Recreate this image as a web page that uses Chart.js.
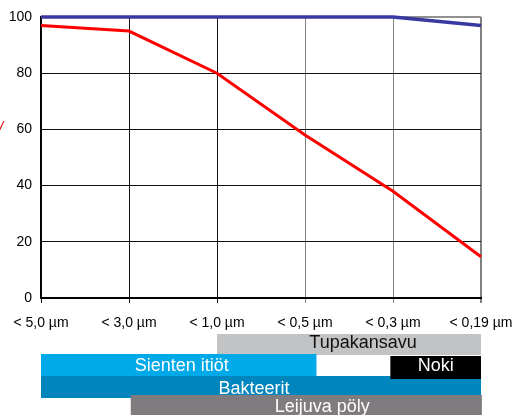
<!DOCTYPE html>
<html>
<head>
<meta charset="utf-8">
<script src="https://cdn.jsdelivr.net/npm/chart.js@4.4.1/dist/chart.umd.min.js"></script>
<style>
html,body{margin:0;padding:0;background:#fff;}
#wrap{width:513px;height:415px;position:relative;}
</style>
</head>
<body>
<div id="wrap"><canvas id="c"></canvas></div>
<script>
// ---- data ----
const categories = ['< 5,0 µm', '< 3,0 µm', '< 1,0 µm', '< 0,5 µm', '< 0,3 µm', '< 0,19 µm'];
const blueSeries = [100, 100, 100, 100, 100, 97];
const redSeries = [97, 95, 80, 58, 38, 14.7];
const yTicks = [0, 20, 40, 60, 80, 100];
// particle-size ranges, in category units
const bandNames = ['Tupakansavu', 'Sienten itiöt', 'Bakteerit', 'Noki', 'Leijuva pöly'];
const bandStart = [2, 0, 0, 3.97, 1.02];
const bandEnd = [5, 3.13, 5, 5, 5.01];

// ---- styling (not data) ----
const bandStyle = [
  {top: 334, h: 21, base: 348, fill: '#c1c3c5', text: '#111', shift: 14},
  {top: 354, h: 22, base: 371, fill: '#00a9e8', text: '#fff', shift: 3},
  {top: 376, h: 22, base: 394, fill: '#0085bd', text: '#fff', shift: -7},
  {top: 356, h: 23, base: 371, fill: '#000000', text: '#fff', shift: 0},
  {top: 395, h: 20, base: 412, fill: '#7f7b7f', text: '#fff', shift: 16}
];
const FONT = '"Liberation Sans", Arial, sans-serif';

const bandsPlugin = {
  id: 'bands',
  afterDraw(chart) {
    const ctx = chart.ctx;
    const x = chart.scales.x;
    ctx.save();
    ctx.font = '18px ' + FONT;
    ctx.textAlign = 'center';
    ctx.textBaseline = 'alphabetic';
    bandNames.forEach((name, i) => {
      const s = bandStyle[i];
      const x0 = x.getPixelForValue(bandStart[i]);
      const x1 = x.getPixelForValue(bandEnd[i]);
      ctx.fillStyle = s.fill;
      ctx.fillRect(x0, s.top, x1 - x0, s.h);
      ctx.fillStyle = s.text;
      ctx.fillText(name, (x0 + x1) / 2 + s.shift, s.base);
    });
    // stray red mark at the far left
    ctx.fillStyle = '#e00000';
    ctx.font = 'italic 15px ' + FONT;
    ctx.textAlign = 'left';
    ctx.fillText('/', -1, 132);
    ctx.restore();
  }
};

new Chart(document.getElementById('c'), {
  type: 'line',
  data: {
    labels: categories,
    datasets: [
      {data: redSeries, borderColor: '#ff0000', borderWidth: 3, pointRadius: 0, tension: 0, fill: false, clip: false},
      {data: blueSeries, borderColor: '#3838a0', borderWidth: 3.5, pointRadius: 0, tension: 0, fill: false, clip: false}
    ]
  },
  options: {
    responsive: true,
    maintainAspectRatio: false,
    animation: false,
    events: [],
    layout: {padding: {top: 17, right: 32, left: 0, bottom: 0}},
    plugins: {legend: {display: false}, tooltip: {enabled: false}},
    scales: {
      x: {
        offset: false,
        grid: {
          color: ctx => ctx.index < 3 ? '#111' : '#808080',
          lineWidth: ctx => ctx.index === 5 ? 2 : 1,
          drawTicks: true,
          tickLength: 5
        },
        border: {color: '#000', width: 2},
        ticks: {
          color: '#000',
          font: {family: FONT, size: 14},
          padding: 12,
          maxRotation: 0,
          autoSkip: false
        },
        afterFit(scale) { scale.height = 117; scale.paddingLeft = 0; scale.paddingRight = 0; }
      },
      y: {
        min: 0,
        max: 100,
        afterBuildTicks(scale) { scale.ticks = yTicks.map(v => ({value: v})); },
        grid: {
          color: ctx => (ctx.tick && ctx.tick.value === 100) ? '#909090' : '#111',
          lineWidth: ctx => (ctx.tick && ctx.tick.value === 100) ? 2 : 1,
          drawTicks: false
        },
        border: {color: '#000', width: 1.5},
        ticks: {
          color: '#000',
          font: {family: FONT, size: 14},
          padding: 9
        },
        afterFit(scale) { scale.width = 41; scale.paddingTop = 0; scale.paddingBottom = 0; }
      }
    }
  },
  plugins: [bandsPlugin]
});
</script>
</body>
</html>
